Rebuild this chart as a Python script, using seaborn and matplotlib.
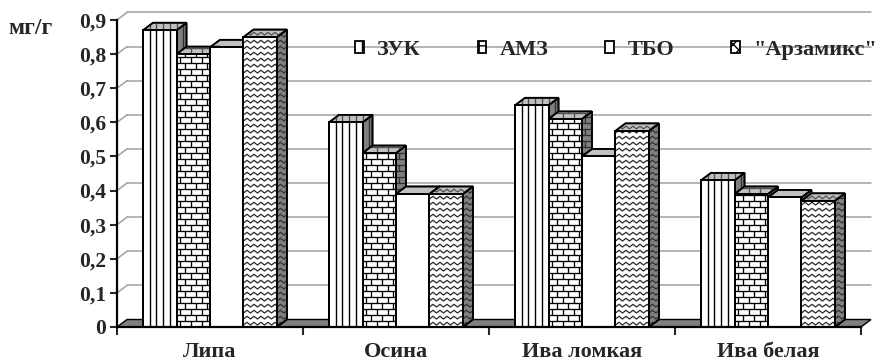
import numpy as np
import pandas as pd
import matplotlib
matplotlib.use("Agg")
import matplotlib.pyplot as plt
import seaborn as sns
from matplotlib.patches import Polygon, Patch
from matplotlib.collections import LineCollection
from matplotlib.transforms import IdentityTransform

# ---- data -------------------------------------------------------------
species = ["Липа", "Осина", "Ива ломкая", "Ива белая"]
sources = ["ЗУК", "АМЗ", "ТБО", "\"Арзамикс\""]
zuk = [0.87, 0.60, 0.65, 0.43]
amz = [0.80, 0.51, 0.61, 0.39]
tbo = [0.82, 0.39, 0.50, 0.38]
arzamiks = [0.85, 0.39, 0.575, 0.37]
y_ticks = [0, 0.1, 0.2, 0.3, 0.4, 0.5, 0.6, 0.7, 0.8, 0.9]
y_tick_labels = ["0", "0,1", "0,2", "0,3", "0,4", "0,5", "0,6", "0,7", "0,8", "0,9"]
unit_label = "мг/г"

series = dict(zip(sources, [zuk, amz, tbo, arzamiks]))
df = pd.DataFrame(
    [(sp, src, vals[i]) for src, vals in series.items() for i, sp in enumerate(species)],
    columns=["Порода", "Источник", "Содержание"],
)

# ---- style ------------------------------------------------------------
sns.set_style("white")
plt.rcParams["font.family"] = ["Liberation Serif", "DejaVu Serif"]
plt.rcParams["font.weight"] = "bold"

W, H = 896, 362
fig = plt.figure(figsize=(W / 100, H / 100), dpi=100)
ax = fig.add_axes([117 / W, 35 / H, 744 / W, 307 / H])

sns.barplot(
    data=df, x="Порода", y="Содержание", hue="Источник",
    order=species, hue_order=sources, palette=["white"] * 4,
    saturation=1, width=0.72, edgecolor="black", linewidth=1.4,
    legend=False, ax=ax, errorbar=None,
)
ax.set_xlim(-0.5, 3.5)
ax.set_ylim(0, 0.9)

# depth of the pseudo-3D extrusion, in pixels, converted to data units
DX_PX, DY_PX = 10, 7.5
px_x = ax.bbox.width / 4.0
px_y = ax.bbox.height / 0.9
dx = DX_PX / px_x
dy = DY_PX / px_y

TOP_C, SIDE_C = "#c0c0c0", "#808080"


def stripes(bb, step=6.7):
    segs = []
    x = bb.x0 + step
    while x < bb.x1 + 20:
        segs.append([(x, bb.y0 - 20), (x, bb.y1 + 20)])
        x += step
    return segs


def bricks(bb, row=6.0, brick=11.0):
    segs = []
    y, k = bb.y0, 0
    while y < bb.y1 + row:
        segs.append([(bb.x0 - 20, y), (bb.x1 + 20, y)])
        x = bb.x0 + 3 + (brick / 2 if k % 2 else 0)
        while x < bb.x1 + 20:
            segs.append([(x, y), (x, y + row)])
            x += brick
        y += row
        k += 1
    return segs


def zigzag(bb, row=6.0, period=7.0, amp=2.7):
    segs = []
    y = bb.y0 + 2
    while y < bb.y1 + row:
        xs = np.arange(bb.x0 - 21, bb.x1 + 21, period / 2)
        ys = y + amp * (np.arange(len(xs)) % 2)
        segs.append(np.column_stack([xs, ys]))
        y += row
    return segs


def add_texture(patch, kind, color="black", z=3.2):
    bb = patch.get_window_extent()
    if kind == "stripes":
        segs, lw = stripes(bb), 1.0
    elif kind == "bricks":
        segs, lw = bricks(bb), 0.95
    elif kind == "zigzag":
        segs, lw = zigzag(bb), 0.9
    else:
        return
    lc = LineCollection(segs, colors=color, linewidths=lw,
                        transform=IdentityTransform(), zorder=z)
    ax.add_collection(lc, autolim=False)
    lc.set_clip_path(patch)


textures = ["stripes", "bricks", None, "zigzag"]
tex_colors = ["black", "black", "black", "#2a2a2a"]

# floor of the plot
floor = Polygon([(-0.5, 0), (3.5, 0), (3.5 + dx, dy), (-0.5 + dx, dy)],
                closed=True, facecolor=SIDE_C, edgecolor="black", lw=1.0,
                zorder=1.5, clip_on=False)
ax.add_patch(floor)

# back-wall gridlines with their diagonal connectors
for v in y_ticks[1:]:
    ax.plot([-0.5 + dx, 3.5 + dx], [v + dy, v + dy], color="#a0a0a0",
            lw=1.1, zorder=0.5, clip_on=False)
    ax.plot([-0.5, -0.5 + dx], [v, v + dy], color="#a0a0a0",
            lw=1.1, zorder=0.5, clip_on=False)

# extrude every bar into a box: side face, top face, front face
for i, cont in enumerate(ax.containers):
    kind = textures[i]
    for bar in cont:
        x0, w, h = bar.get_x(), bar.get_width(), bar.get_height()
        bar.set_zorder(3)
        side = Polygon([(x0 + w, 0), (x0 + w + dx, dy), (x0 + w + dx, h + dy), (x0 + w, h)],
                       closed=True, facecolor=SIDE_C, edgecolor="black", lw=1.2,
                       zorder=2, clip_on=False)
        top = Polygon([(x0, h), (x0 + w, h), (x0 + w + dx, h + dy), (x0 + dx, h + dy)],
                      closed=True, facecolor=TOP_C, edgecolor="black", lw=1.2,
                      zorder=2.5, clip_on=False)
        ax.add_patch(side)
        ax.add_patch(top)
        add_texture(bar, kind, color=tex_colors[i], z=3.1)
        add_texture(side, kind, color="#303030", z=2.1)
        add_texture(top, kind, color="#505050", z=2.6)
        # redraw outlines above the textures
        for face, zz in ((bar, 3.3), (side, 2.2), (top, 2.7)):
            outline = Polygon(face.get_path().transformed(face.get_patch_transform()).vertices
                              if face is bar else face.get_xy(),
                              closed=True, fill=False, edgecolor="black",
                              lw=1.4 if face is bar else 1.2, zorder=zz, clip_on=False)
            ax.add_patch(outline)

# axes, ticks and labels
for s in ["top", "right"]:
    ax.spines[s].set_visible(False)
for s in ["left", "bottom"]:
    ax.spines[s].set_color("black")
    ax.spines[s].set_linewidth(1.6)
    ax.spines[s].set_zorder(4)

ax.set_yticks(y_ticks)
ax.set_yticklabels(y_tick_labels)
ax.set_xticks(range(len(species)))
ax.set_xticklabels(species)
ax.set_xticks([-0.5, 0.5, 1.5, 2.5, 3.5], minor=True)
ax.tick_params(axis="y", direction="out", length=5, width=1.5, pad=3,
               labelsize=15.5, left=True)
ax.tick_params(axis="x", which="major", length=0, pad=11, labelsize=16)
ax.tick_params(axis="x", which="minor", direction="out", length=6, width=1.5,
               bottom=True)
for lab in ax.get_yticklabels() + ax.get_xticklabels():
    lab.set_fontweight("bold")
ax.set_xlabel("")
ax.set_ylabel("")

fig.text(8 / W, 1 - 28 / H, unit_label, fontsize=17, fontweight="bold",
         ha="left", va="center")

# legend
handles = [
    Patch(facecolor="white", edgecolor="black", hatch="||", lw=1.3),
    Patch(facecolor="white", edgecolor="black", hatch="++", lw=1.3),
    Patch(facecolor="white", edgecolor="black", lw=1.3),
    Patch(facecolor="white", edgecolor="black", hatch="xxx", lw=1.3),
]
leg = fig.legend(handles, sources, loc="center left",
                 bbox_to_anchor=(346 / W, 1 - 50 / H), ncol=4, frameon=False,
                 fontsize=16, handlelength=0.4, handleheight=0.5,
                 handletextpad=0.6, columnspacing=2.55, borderaxespad=0)
for t in leg.get_texts():
    t.set_fontweight("bold")

fig.savefig("out.png", dpi=100)
